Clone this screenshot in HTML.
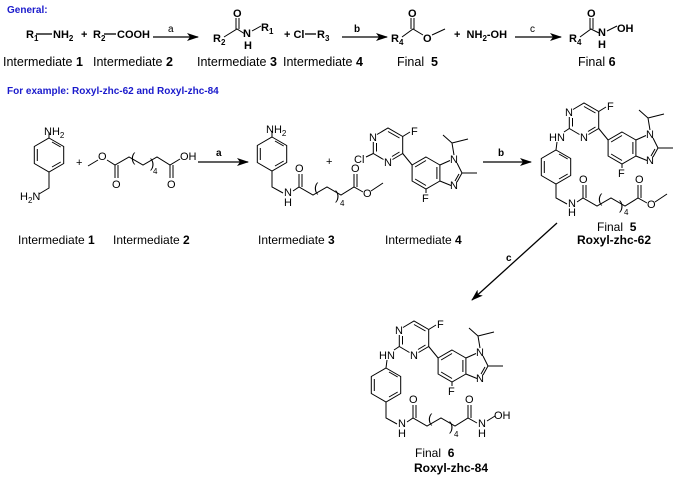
<!DOCTYPE html>
<html><head><meta charset="utf-8"><style>
html,body{margin:0;padding:0;background:#fff;}
svg{display:block;}
text{font-family:"Liberation Sans",Arial,sans-serif;fill:#000;}
.a{font-size:11px;}
.g{font-size:11px;font-weight:bold;}
.l{font-size:12px;}
.s{font-size:8px;}
</style></head><body>
<svg width="684" height="478" viewBox="0 0 684 478" xmlns="http://www.w3.org/2000/svg">
<defs>
<marker id="ah" viewBox="0 0 12 8" refX="11" refY="4" markerWidth="12" markerHeight="8" markerUnits="userSpaceOnUse" orient="auto">
<path d="M0,0 L12,4 L0,8 L3,4 Z" fill="#000"/></marker>
</defs>
<g stroke="#000" stroke-width="1" fill="none">
<line x1="153" y1="37" x2="198" y2="37" stroke-width="1.3" marker-end="url(#ah)"/>
<line x1="342" y1="37" x2="387" y2="37" stroke-width="1.3" marker-end="url(#ah)"/>
<line x1="515" y1="37" x2="561" y2="37" stroke-width="1.3" marker-end="url(#ah)"/>
<line x1="198" y1="162" x2="248" y2="162" stroke-width="1.3" marker-end="url(#ah)"/>
<line x1="483" y1="162" x2="531" y2="162" stroke-width="1.3" marker-end="url(#ah)"/>
<line x1="557" y1="223" x2="472" y2="300" stroke-width="1.3" marker-end="url(#ah)"/>
<line x1="36" y1="34" x2="52" y2="34" stroke-width="1.3"/>
<line x1="104" y1="34" x2="116" y2="34" stroke-width="1.3"/>
<line x1="305" y1="34" x2="316" y2="34" stroke-width="1.3"/>
<path d="M224,37 L237,29 L245,34"/><line x1="236" y1="29" x2="236" y2="18"/><line x1="239" y1="29" x2="239" y2="18"/>
<path d="M252,31 L261,26"/>
<path d="M402,37 L413,29 L423,35"/><line x1="411" y1="29" x2="411" y2="18"/><line x1="414" y1="29" x2="414" y2="18"/>
<path d="M432,35 L445,29"/>
<path d="M580,37 L591,29 L599,33"/><line x1="590" y1="29" x2="590" y2="18"/><line x1="593" y1="29" x2="593" y2="18"/>
<path d="M607,31 L617,26"/>

<g transform="translate(-337,-230)">
<polygon points="386,368 400.7,376.5 400.7,393.5 386,402 371.3,393.5 371.3,376.5"/>
<line x1="389" y1="372" x2="397.7" y2="377"/><line x1="397.7" y1="392" x2="389" y2="397"/><line x1="374.3" y1="391" x2="374.3" y2="379"/>
<line x1="386" y1="368" x2="386" y2="362"/>
<path d="M386,402 L386,418 L376,424"/>
</g>
<path d="M88,166 L98,160"/><path d="M107,160 L115,165 L129,157 L143,165 L157,157 L170,165 L180,159"/>
<line x1="115" y1="165" x2="115" y2="178"/><line x1="118" y1="165" x2="118" y2="178"/>
<line x1="170" y1="165" x2="170" y2="178"/><line x1="173" y1="165" x2="173" y2="178"/>

<g transform="translate(-114,-231)">
<polygon points="386,368 400.7,376.5 400.7,393.5 386,402 371.3,393.5 371.3,376.5"/>
<line x1="389" y1="372" x2="397.7" y2="377"/><line x1="397.7" y1="392" x2="389" y2="397"/><line x1="374.3" y1="391" x2="374.3" y2="379"/>
<line x1="386" y1="368" x2="386" y2="362"/>
<path d="M386,402 L386,418 L397,424"/>
<path d="M407,422 L413,418 L427,426 L441,418 L455,426 L468,418 L477,423"/>
<line x1="413" y1="418" x2="413" y2="405"/><line x1="416" y1="418" x2="416" y2="405"/>
<line x1="468" y1="418" x2="468" y2="405"/><line x1="471" y1="418" x2="471" y2="405"/>
<line x1="485" y1="422" x2="497" y2="414"/>
</g>

<g>
<path d="M399.3,346.5 L399.3,335 M403,327.5 L414,321 L428.7,329.5 L428.7,346.5 L418.5,352.5 M409.5,352.5 L399.3,346.5"/>
<line x1="402.5" y1="344.5" x2="402.5" y2="336"/><line x1="414" y1="324.5" x2="425.5" y2="331"/><line x1="425.5" y1="345" x2="418" y2="349.5"/>
<line x1="428.7" y1="329.5" x2="436" y2="325"/>
<line x1="428.7" y1="346.5" x2="438.1" y2="358"/>
<polygon points="452,350 465.9,358 465.9,374 452,382 438.1,374 438.1,358"/>
<line x1="441.1" y1="360" x2="452" y2="353.5"/><line x1="462.9" y1="360" x2="462.9" y2="372"/><line x1="452" y1="378.5" x2="441.1" y2="372"/>
<line x1="452" y1="382" x2="452" y2="386"/>
<path d="M465.9,358 L476,353.5 M483,356 L488,366 L483,375 M477,378.5 L465.9,374"/>
<line x1="485" y1="367" x2="481" y2="374"/>
<line x1="488" y1="366" x2="503" y2="366"/>
<path d="M480,348 L478,336 L469,328 M478,336 L494,332"/>
</g>
</g>

<g stroke="#000" stroke-width="1" fill="none">
<g transform="translate(-26,-193)">
<path d="M399.3,346.5 L399.3,335 M403,327.5 L414,321 L428.7,329.5 L428.7,346.5 L418.5,352.5 M409.5,352.5 L399.3,346.5"/>
<line x1="402.5" y1="344.5" x2="402.5" y2="336"/><line x1="414" y1="324.5" x2="425.5" y2="331"/><line x1="425.5" y1="345" x2="418" y2="349.5"/>
<line x1="428.7" y1="329.5" x2="436" y2="325"/>
<line x1="428.7" y1="346.5" x2="438.1" y2="358"/>
<polygon points="452,350 465.9,358 465.9,374 452,382 438.1,374 438.1,358"/>
<line x1="441.1" y1="360" x2="452" y2="353.5"/><line x1="462.9" y1="360" x2="462.9" y2="372"/><line x1="452" y1="378.5" x2="441.1" y2="372"/>
<line x1="452" y1="382" x2="452" y2="386"/>
<path d="M465.9,358 L476,353.5 M483,356 L488,366 L483,375 M477,378.5 L465.9,374"/>
<line x1="485" y1="367" x2="481" y2="374"/>
<line x1="488" y1="366" x2="503" y2="366"/>
<path d="M480,348 L478,336 L469,328 M478,336 L494,332"/>
<line x1="399.3" y1="346.5" x2="392" y2="350"/>
</g>
<g transform="translate(170,-218)">
<path d="M399.3,346.5 L399.3,335 M403,327.5 L414,321 L428.7,329.5 L428.7,346.5 L418.5,352.5 M409.5,352.5 L399.3,346.5"/>
<line x1="402.5" y1="344.5" x2="402.5" y2="336"/><line x1="414" y1="324.5" x2="425.5" y2="331"/><line x1="425.5" y1="345" x2="418" y2="349.5"/>
<line x1="428.7" y1="329.5" x2="436" y2="325"/>
<line x1="428.7" y1="346.5" x2="438.1" y2="358"/>
<polygon points="452,350 465.9,358 465.9,374 452,382 438.1,374 438.1,358"/>
<line x1="441.1" y1="360" x2="452" y2="353.5"/><line x1="462.9" y1="360" x2="462.9" y2="372"/><line x1="452" y1="378.5" x2="441.1" y2="372"/>
<line x1="452" y1="382" x2="452" y2="386"/>
<path d="M465.9,358 L476,353.5 M483,356 L488,366 L483,375 M477,378.5 L465.9,374"/>
<line x1="485" y1="367" x2="481" y2="374"/>
<line x1="488" y1="366" x2="503" y2="366"/>
<path d="M480,348 L478,336 L469,328 M478,336 L494,332"/>
<line x1="399.3" y1="346.5" x2="394" y2="350"/>
<polygon points="386,368 400.7,376.5 400.7,393.5 386,402 371.3,393.5 371.3,376.5"/>
<line x1="389" y1="372" x2="397.7" y2="377"/><line x1="397.7" y1="392" x2="389" y2="397"/><line x1="374.3" y1="391" x2="374.3" y2="379"/>
<line x1="386" y1="368" x2="387" y2="360"/>
<path d="M386,402 L386,416 L397,422"/>
<path d="M407,420 L413,416 L427,424 L441,416 L455,424 L468,416 L477,421"/>
<line x1="413" y1="416" x2="413" y2="403"/><line x1="416" y1="416" x2="416" y2="403"/>
<line x1="468" y1="416" x2="468" y2="403"/><line x1="471" y1="416" x2="471" y2="403"/>
<line x1="485" y1="420" x2="497" y2="412"/>
</g>
<line x1="399.3" y1="346.5" x2="394" y2="350"/>
<polygon points="386,368 400.7,376.5 400.7,393.5 386,402 371.3,393.5 371.3,376.5"/>
<line x1="389" y1="372" x2="397.7" y2="377"/><line x1="397.7" y1="392" x2="389" y2="397"/><line x1="374.3" y1="391" x2="374.3" y2="379"/>
<line x1="386" y1="368" x2="387" y2="360"/>
<path d="M386,402 L386,418 L397,424"/>
<path d="M407,422 L413,418 L427,426 L441,418 L455,426 L468,418 L477,423"/>
<line x1="413" y1="418" x2="413" y2="405"/><line x1="416" y1="418" x2="416" y2="405"/>
<line x1="468" y1="418" x2="468" y2="405"/><line x1="471" y1="418" x2="471" y2="405"/>
<line x1="487" y1="421" x2="495" y2="416"/>
</g>

<text x="7" y="13" font-size="10" font-weight="bold" style="fill:#1a1acc">General:</text>
<text x="7" y="94" font-size="10" font-weight="bold" style="fill:#1a1acc">For example: Roxyl-zhc-62 and Roxyl-zhc-84</text>

<g class="g">
<text x="26" y="38">R<tspan class="s" dy="3">1</tspan></text>
<text x="53" y="38">NH<tspan class="s" dy="3">2</tspan></text>
<text x="81" y="38">+</text>
<text x="93" y="38">R<tspan class="s" dy="3">2</tspan></text>
<text x="117" y="38">COOH</text>
<text x="168" y="32" font-size="10" font-weight="normal">a</text>
<text x="213" y="42">R<tspan class="s" dy="3">2</tspan></text>
<text x="233" y="17">O</text>
<text x="243" y="37">N</text>
<text x="244" y="49">H</text>
<text x="261" y="31">R<tspan class="s" dy="3">1</tspan></text>
<text x="284" y="38">+ Cl</text>
<text x="317" y="38">R<tspan class="s" dy="3">3</tspan></text>
<text x="354" y="32" font-size="10">b</text>
<text x="391" y="42">R<tspan class="s" dy="3">4</tspan></text>
<text x="408" y="17">O</text>
<text x="423" y="42">O</text>
<text x="454" y="38">+&#160; NH<tspan class="s" dy="3">2</tspan><tspan dy="-3">-OH</tspan></text>
<text x="530" y="32" font-size="10" font-weight="normal">c</text>
<text x="569" y="42">R<tspan class="s" dy="3">4</tspan></text>
<text x="587" y="17">O</text>
<text x="598" y="36">N</text>
<text x="598" y="48">H</text>
<text x="617" y="32">OH</text>
</g>
<g class="l">
<text x="3" y="66" font-size="12.5">Intermediate <tspan font-weight="bold">1</tspan></text>
<text x="93" y="66" font-size="12.5">Intermediate <tspan font-weight="bold">2</tspan></text>
<text x="197" y="66" font-size="12.5">Intermediate <tspan font-weight="bold">3</tspan></text>
<text x="283" y="66" font-size="12.5">Intermediate <tspan font-weight="bold">4</tspan></text>
<text x="397" y="66" font-size="12.5">Final&#160; <tspan font-weight="bold">5</tspan></text>
<text x="578" y="66" font-size="12.5">Final <tspan font-weight="bold">6</tspan></text>
<text x="18" y="244">Intermediate <tspan font-weight="bold">1</tspan></text>
<text x="113" y="244">Intermediate <tspan font-weight="bold">2</tspan></text>
<text x="258" y="244">Intermediate <tspan font-weight="bold">3</tspan></text>
<text x="385" y="244">Intermediate <tspan font-weight="bold">4</tspan></text>
<text x="597" y="231">Final&#160; <tspan font-weight="bold">5</tspan></text>
<text x="577" y="244" font-weight="bold">Roxyl-zhc-62</text>
<text x="415" y="457">Final&#160; <tspan font-weight="bold">6</tspan></text>
<text x="414" y="472" font-weight="bold">Roxyl-zhc-84</text>
</g>

<g class="a">
<text x="44" y="135">NH<tspan class="s" dy="3">2</tspan></text>
<text x="20" y="200">H<tspan class="s" dy="3">2</tspan><tspan dy="-3">N</tspan></text>
<text x="76" y="166">+</text>
<text x="98" y="160">O</text>
<text x="112" y="188">O</text>
<text x="167" y="188">O</text>
<text x="180" y="160">OH</text>
<text x="131" y="162" font-size="13">(</text>
<text x="150" y="168" font-size="13">)</text>
<text x="153" y="174" font-size="8">4</text>
<text x="216" y="156" font-size="10" font-weight="bold">a</text>
<g transform="translate(-114,-231)">
<text x="380" y="364">NH<tspan class="s" dy="3">2</tspan></text>
<text x="398" y="427">N</text><text x="398" y="437">H</text>
<text x="409" y="403">O</text><text x="465" y="403">O</text>
<text x="477" y="428">O</text>
<text x="428" y="423" font-size="13">(</text><text x="449" y="431" font-size="13">)</text><text x="454" y="437" font-size="8">4</text>
</g>
<text x="326" y="165">+</text>
<g transform="translate(-26,-193)">
<text x="395" y="334">N</text><text x="410" y="359">N</text>
<text x="437" y="328">F</text><text x="448" y="395">F</text>
<text x="476" y="356">N</text><text x="476" y="382">N</text>
<text x="380" y="356">Cl</text>
</g>
<text x="498" y="156" font-size="10" font-weight="bold">b</text>
<g transform="translate(170,-218)">
<text x="395" y="334">N</text><text x="410" y="359">N</text>
<text x="437" y="328">F</text><text x="448" y="395">F</text>
<text x="476" y="356">N</text><text x="476" y="382">N</text>
<text x="379" y="359">HN</text>
<text x="398" y="425">N</text><text x="398" y="434">H</text>
<text x="409" y="401">O</text><text x="465" y="401">O</text>
<text x="477" y="426">O</text>
<text x="428" y="421" font-size="13">(</text><text x="449" y="428" font-size="13">)</text><text x="454" y="433" font-size="8">4</text>
</g>
<text x="506" y="261" font-size="10" font-weight="bold">c</text>
<text x="395" y="334">N</text><text x="410" y="359">N</text>
<text x="437" y="328">F</text><text x="448" y="395">F</text>
<text x="476" y="356">N</text><text x="476" y="382">N</text>
<text x="379" y="359">HN</text>
<text x="398" y="427">N</text><text x="398" y="437">H</text>
<text x="409" y="403">O</text><text x="465" y="403">O</text>
<text x="478" y="427">N</text><text x="478" y="437">H</text>
<text x="494" y="419">OH</text>
<text x="428" y="423" font-size="13">(</text><text x="449" y="431" font-size="13">)</text><text x="454" y="437" font-size="8">4</text>
</g>
</svg>
</body></html>
